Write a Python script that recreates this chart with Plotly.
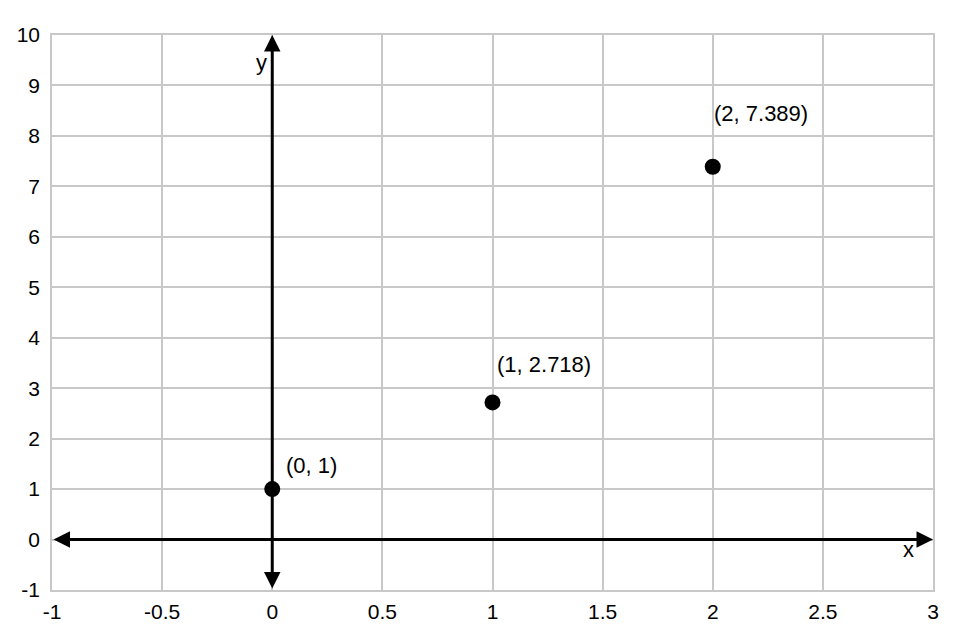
import plotly.graph_objects as go

xs = [0, 1, 2]
ys = [1, 2.718, 7.389]
labels = ["(0, 1)", "(1, 2.718)", "(2, 7.389)"]
label_dx = [12, 2, -1]
label_dy = [-24, -38, -53]

x_range = [-1, 3]
y_range = [-1, 10]
x_ticks = [-1, -0.5, 0, 0.5, 1, 1.5, 2, 2.5, 3]
x_tick_text = ["-1", "-0.5", "0", "0.5", "1", "1.5", "2", "2.5", "3"]
y_ticks = [-1, 0, 1, 2, 3, 4, 5, 6, 7, 8, 9, 10]
y_tick_text = ["-1", "0", "1", "2", "3", "4", "5", "6", "7", "8", "9", "10"]

fig = go.Figure()
fig.add_trace(go.Scatter(x=xs, y=ys, mode="markers",
                         marker=dict(color="black", size=16), showlegend=False,
                         hoverinfo="skip"))

annotations = []
annotations.append(dict(x=x_range[1], y=0, ax=x_range[0], ay=0, xref="x", yref="y",
                        axref="x", ayref="y", showarrow=True, arrowhead=2, arrowside="end+start",
                        arrowwidth=3, arrowsize=1.1, arrowcolor="black", text=""))
annotations.append(dict(x=0, y=y_range[1], ax=0, ay=y_range[0], xref="x", yref="y",
                        axref="x", ayref="y", showarrow=True, arrowhead=2, arrowside="end+start",
                        arrowwidth=3, arrowsize=1.1, arrowcolor="black", text=""))
for x, y, t, dx, dy in zip(xs, ys, labels, label_dx, label_dy):
    annotations.append(dict(x=x, y=y, xref="x", yref="y", text=t, showarrow=False,
                            xanchor="left", yanchor="middle", xshift=dx, yshift=-dy,
                            font=dict(size=22, color="black")))
annotations.append(dict(x=2.887, y=-0.2, xref="x", yref="y", text="x", showarrow=False,
                        font=dict(size=22, color="black")))
annotations.append(dict(x=-0.051, y=9.46, xref="x", yref="y", text="y", showarrow=False,
                        font=dict(size=22, color="black")))

fig.update_layout(
    width=947, height=624,
    margin=dict(l=44, r=22, t=27, b=42),
    paper_bgcolor="white", plot_bgcolor="white",
    font=dict(family="Liberation Sans, Arial, sans-serif", size=21, color="black"),
    annotations=annotations,
    xaxis=dict(range=x_range, tickvals=x_ticks, ticktext=x_tick_text, showgrid=True,
               gridcolor="#c8c8c8", gridwidth=1.5, zeroline=False, automargin=False,
               showline=True, linecolor="#c8c8c8", linewidth=1.5, mirror=True,
               ticks="", ticklabelstandoff=2, fixedrange=True),
    yaxis=dict(range=y_range, tickvals=y_ticks, ticktext=y_tick_text, showgrid=True,
               gridcolor="#c8c8c8", gridwidth=1.5, zeroline=False, automargin=False,
               showline=True, linecolor="#c8c8c8", linewidth=1.5, mirror=True,
               ticks="", ticklabelstandoff=6, fixedrange=True),
)

fig.write_html("out.html")
